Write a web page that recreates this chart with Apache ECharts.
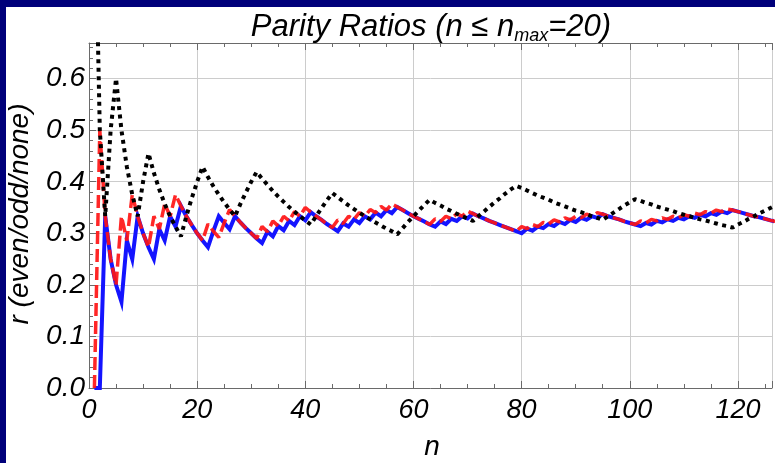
<!DOCTYPE html>
<html>
<head>
<meta charset="utf-8">
<script src="https://cdn.jsdelivr.net/npm/echarts@6/dist/echarts.min.js"></script>
<style>
  html, body { margin: 0; padding: 0; }
  #wrap { position: relative; width: 775px; height: 463px; background: #00007a; overflow: hidden; }
  #panel { position: absolute; left: 6px; top: 7px; width: 769px; height: 456px; background: #fff; }
  #main { position: absolute; left: 0; top: 0; width: 775px; height: 463px; }
</style>
</head>
<body>
<div id="wrap"><div id="panel"></div><div id="main"></div></div>
<script>
// running fractions r(n) for n = 1..127
var evenRatio = [
  0, 0, 0.333, 0.25, 0.2, 0.167, 0.286, 0.25, 0.333, 0.3,
  0.273, 0.25, 0.308, 0.286, 0.333, 0.313, 0.353, 0.333, 0.316, 0.3,
  0.286, 0.273, 0.304, 0.333, 0.32, 0.308, 0.333, 0.321, 0.31, 0.3,
  0.29, 0.281, 0.303, 0.294, 0.314, 0.306, 0.324, 0.316, 0.333, 0.325,
  0.341, 0.333, 0.326, 0.318, 0.311, 0.304, 0.319, 0.313, 0.327, 0.32,
  0.333, 0.327, 0.34, 0.333, 0.345, 0.339, 0.351, 0.345, 0.339, 0.333,
  0.328, 0.323, 0.317, 0.313, 0.323, 0.318, 0.328, 0.324, 0.333, 0.329,
  0.338, 0.333, 0.329, 0.324, 0.32, 0.316, 0.312, 0.308, 0.304, 0.3,
  0.309, 0.305, 0.313, 0.31, 0.318, 0.314, 0.322, 0.318, 0.326, 0.322,
  0.33, 0.326, 0.333, 0.33, 0.337, 0.333, 0.33, 0.327, 0.323, 0.32,
  0.317, 0.314, 0.32, 0.317, 0.324, 0.321, 0.327, 0.324, 0.33, 0.327,
  0.333, 0.33, 0.336, 0.333, 0.339, 0.336, 0.342, 0.339, 0.345, 0.342,
  0.339, 0.336, 0.333, 0.331, 0.328, 0.325, 0.323
];
var oddRatio = [
  0, 0.5, 0.333, 0.25, 0.2, 0.333, 0.286, 0.375, 0.333, 0.3,
  0.273, 0.333, 0.308, 0.357, 0.333, 0.375, 0.353, 0.333, 0.316, 0.3,
  0.286, 0.318, 0.304, 0.292, 0.32, 0.346, 0.333, 0.321, 0.31, 0.3,
  0.29, 0.313, 0.303, 0.324, 0.314, 0.333, 0.324, 0.342, 0.333, 0.35,
  0.341, 0.333, 0.326, 0.318, 0.311, 0.326, 0.319, 0.333, 0.327, 0.34,
  0.333, 0.346, 0.34, 0.352, 0.345, 0.357, 0.351, 0.345, 0.339, 0.333,
  0.328, 0.323, 0.317, 0.328, 0.323, 0.333, 0.328, 0.338, 0.333, 0.343,
  0.338, 0.333, 0.329, 0.324, 0.32, 0.316, 0.312, 0.308, 0.304, 0.313,
  0.309, 0.317, 0.313, 0.321, 0.318, 0.326, 0.322, 0.33, 0.326, 0.333,
  0.33, 0.337, 0.333, 0.34, 0.337, 0.333, 0.33, 0.327, 0.323, 0.32,
  0.317, 0.324, 0.32, 0.327, 0.324, 0.33, 0.327, 0.333, 0.33, 0.336,
  0.333, 0.339, 0.336, 0.342, 0.339, 0.345, 0.342, 0.347, 0.345, 0.342,
  0.339, 0.336, 0.333, 0.331, 0.328, 0.325, 0.323
];
var noneRatio = [
  1, 0.5, 0.333, 0.5, 0.6, 0.5, 0.429, 0.375, 0.333, 0.4,
  0.455, 0.417, 0.385, 0.357, 0.333, 0.313, 0.294, 0.333, 0.368, 0.4,
  0.429, 0.409, 0.391, 0.375, 0.36, 0.346, 0.333, 0.357, 0.379, 0.4,
  0.419, 0.406, 0.394, 0.382, 0.371, 0.361, 0.351, 0.342, 0.333, 0.325,
  0.317, 0.333, 0.349, 0.364, 0.378, 0.37, 0.362, 0.354, 0.347, 0.34,
  0.333, 0.327, 0.321, 0.315, 0.309, 0.304, 0.298, 0.31, 0.322, 0.333,
  0.344, 0.355, 0.365, 0.359, 0.354, 0.348, 0.343, 0.338, 0.333, 0.329,
  0.324, 0.333, 0.342, 0.351, 0.36, 0.368, 0.377, 0.385, 0.392, 0.388,
  0.383, 0.378, 0.373, 0.369, 0.365, 0.36, 0.356, 0.352, 0.348, 0.344,
  0.341, 0.337, 0.333, 0.33, 0.326, 0.333, 0.34, 0.347, 0.354, 0.36,
  0.366, 0.363, 0.359, 0.356, 0.352, 0.349, 0.346, 0.343, 0.339, 0.336,
  0.333, 0.33, 0.327, 0.325, 0.322, 0.319, 0.316, 0.314, 0.311, 0.317,
  0.322, 0.328, 0.333, 0.339, 0.344, 0.349, 0.354
];
var nValues = evenRatio.map(function (_, i) { return i + 1; });

var FONT = 'Liberation Sans, Arial, sans-serif';
var frameColor = '#6a6a6a';

function pairs(vals) {
  return vals.map(function (v, i) { return [nValues[i], v]; });
}

var chart = echarts.init(document.getElementById('main'));
chart.setOption({
  backgroundColor: 'transparent',
  animation: false,
  grid: { left: 89, top: 43, right: 0, bottom: 75 },
  xAxis: [{
    type: 'value', min: 0, max: 126.3, interval: 20,
    axisLine: { show: true, onZero: false, lineStyle: { color: frameColor, width: 1 } },
    axisTick: { inside: true, length: 7, lineStyle: { color: frameColor } },
    minorTick: { show: true, splitNumber: 4, length: 4, lineStyle: { color: frameColor } },
    splitLine: { show: true, lineStyle: { color: '#cccccc', width: 1 } },
    axisLabel: {
      margin: 9, fontSize: 27, fontStyle: 'italic', color: '#000', fontFamily: FONT,
      formatter: function (v) { return v % 20 === 0 ? String(v) : ''; }
    }
  }, {
    type: 'value', position: 'top', min: 0, max: 126.3, interval: 20,
    axisLine: { show: true, onZero: false, lineStyle: { color: frameColor, width: 1 } },
    axisTick: { inside: true, length: 7, lineStyle: { color: frameColor } },
    minorTick: { show: true, splitNumber: 4, length: 4, lineStyle: { color: frameColor } },
    splitLine: { show: false },
    axisLabel: { show: false }
  }],
  yAxis: {
    type: 'value', min: 0, max: 0.669, interval: 0.1,
    axisLine: { show: true, onZero: false, lineStyle: { color: frameColor, width: 1 } },
    axisTick: { inside: true, length: 7, lineStyle: { color: frameColor } },
    minorTick: { show: true, splitNumber: 5, length: 4, lineStyle: { color: frameColor } },
    splitLine: { show: true, lineStyle: { color: '#cccccc', width: 1 } },
    axisLabel: {
      margin: 4, fontSize: 28, fontStyle: 'italic', color: '#000', fontFamily: FONT,
      formatter: function (v) {
        return Math.abs(v * 10 - Math.round(v * 10)) < 1e-6 ? v.toFixed(1) : '';
      }
    }
  },
  series: [{
    name: 'even', type: 'line', data: pairs(evenRatio), showSymbol: false, symbol: 'none',
    clip: true, z: 3,
    lineStyle: { color: '#1414ff', width: 4, join: 'miter' }
  }, {
    name: 'odd', type: 'line', data: pairs(oddRatio), showSymbol: false, symbol: 'none',
    clip: true, z: 4,
    lineStyle: { color: '#ff1414', width: 3.5, type: [13, 5], opacity: 0.92 }
  }, {
    name: 'none', type: 'line', data: pairs(noneRatio), showSymbol: false, symbol: 'none',
    clip: true, z: 5,
    lineStyle: { color: '#000', width: 4, type: [4, 4.5] }
  }],
  graphic: [{
    type: 'text', x: 431, y: 27,
    style: {
      text: '{a|Parity Ratios (n ≤ n}{b|max}{a|=20)}',
      align: 'center', verticalAlign: 'middle',
      rich: {
        a: { fontSize: 31, fontStyle: 'italic', fontFamily: FONT, fill: '#000', lineHeight: 36 },
        b: { fontSize: 18, fontStyle: 'italic', fontFamily: FONT, fill: '#000', lineHeight: 18, verticalAlign: 'bottom' }
      }
    }
  }, {
    type: 'text', x: 20, y: 214, rotation: Math.PI / 2,
    style: {
      text: 'r (even/odd/none)', align: 'center', verticalAlign: 'middle',
      fontSize: 28, fontStyle: 'italic', fontFamily: FONT, fill: '#000'
    }
  }, {
    type: 'text', x: 432, y: 447,
    style: {
      text: 'n', align: 'center', verticalAlign: 'middle',
      fontSize: 28, fontStyle: 'italic', fontFamily: FONT, fill: '#000'
    }
  }]
});
</script>
</body>
</html>
